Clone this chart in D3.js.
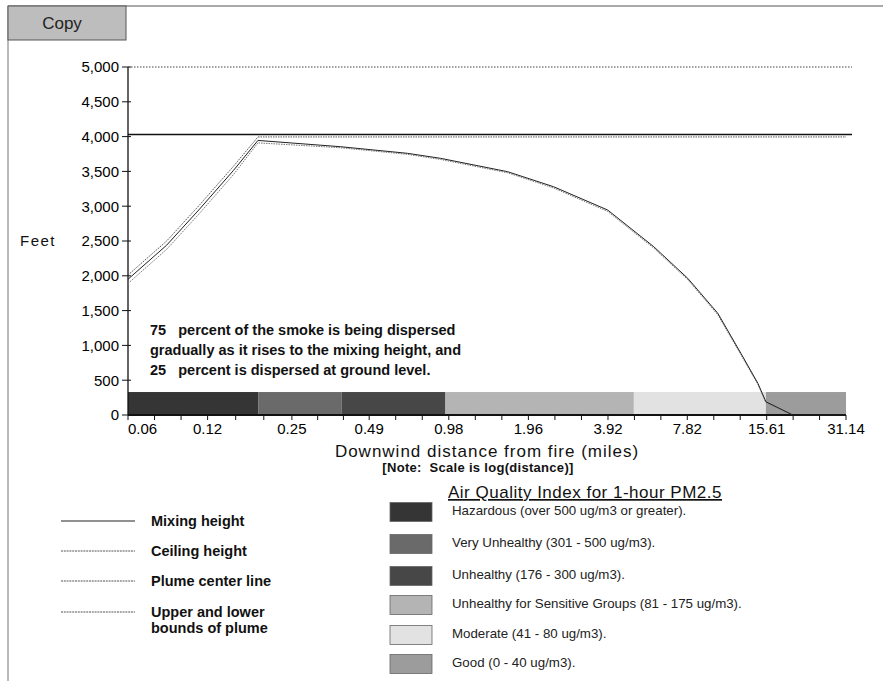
<!DOCTYPE html>
<html>
<head>
<meta charset="utf-8">
<script src="https://cdn.jsdelivr.net/npm/d3@7"></script>
<style>
  body { margin: 0; background: #fff; }
  svg { font-family: "Liberation Sans", Arial, sans-serif; }
</style>
</head>
<body>
<svg id="chart" width="883" height="681"></svg>
<script>
// distance labels along the log axis (miles)
const xTickLabels = [0.06, 0.12, 0.25, 0.49, 0.98, 1.96, 3.92, 7.82, 15.61, 31.14];
const yTicks = [0, 500, 1000, 1500, 2000, 2500, 3000, 3500, 4000, 4500, 5000];

const mixingHeight = 4030;
const ceilingHeight = 5000;

// plume center line
const centerDist = [0.06, 0.084, 0.112, 0.150, 0.186, 0.381, 0.683, 0.912, 1.635, 2.44, 3.91, 5.84, 7.85, 10.2, 12.47, 14.46, 15.5, 19.6, 31.14];
const centerFeet = [1950, 2440, 2960, 3510, 3945, 3855, 3760, 3688, 3496, 3280, 2945, 2418, 1964, 1461, 886, 455, 191, 0, 0];

// upper and lower bounds
const upperDist = [0.06, 0.084, 0.112, 0.150, 0.186, 31.14];
const upperFeet = [2011, 2500, 3020, 3570, 3995, 3995];
const lowerDist = [0.06, 0.084, 0.112, 0.150, 0.186, 0.381, 0.683, 0.912, 1.635, 2.44, 3.91, 5.84, 7.85, 10.2, 12.47, 14.46, 15.5, 19.6];
const lowerFeet = [1890, 2380, 2900, 3450, 3910, 3840, 3745, 3672, 3480, 3262, 2925, 2398, 1945, 1440, 866, 440, 180, 0];

// air quality band at ground level
const bandEdges = [0.06, 0.187, 0.386, 0.952, 4.91, 15.5, 31.14];
const bandCat = [0, 1, 2, 3, 4, 5];
const bandTop = 330;

const aqiLabels = [
  "Hazardous (over 500 ug/m3 or greater).",
  "Very Unhealthy (301 - 500 ug/m3).",
  "Unhealthy (176 - 300 ug/m3).",
  "Unhealthy for Sensitive Groups (81 - 175 ug/m3).",
  "Moderate (41 - 80 ug/m3).",
  "Good (0 - 40 ug/m3)."
];
const aqiColors = ["#353535", "#6a6a6a", "#474747", "#b4b4b4", "#e2e2e2", "#9c9c9c"];

const lineLegend = [
  ["Mixing height"],
  ["Ceiling height"],
  ["Plume center line"],
  ["Upper and lower", "bounds of plume"]
];

const svg = d3.select('#chart');

// window frame and Copy button
svg.append('line').attr('x1', 8).attr('y1', 6).attr('x2', 883).attr('y2', 6)
  .attr('stroke', '#555').attr('stroke-width', 1);
svg.append('line').attr('x1', 8).attr('y1', 6).attr('x2', 8).attr('y2', 681)
  .attr('stroke', '#777').attr('stroke-width', 1);
svg.append('rect').attr('x', 8).attr('y', 6).attr('width', 118).attr('height', 34)
  .attr('fill', '#bdbdbd').attr('stroke', '#555');
svg.append('text').attr('x', 62).attr('y', 29).attr('text-anchor', 'middle')
  .attr('font-size', 17).attr('fill', '#222').text('Copy');

const x = d3.scaleLog().domain([0.06, 31.14]).range([128, 846]);
const y = d3.scaleLinear().domain([0, 5000]).range([415, 67]);

// bands
svg.append('g').selectAll('rect').data(bandCat).join('rect')
  .attr('x', (d, i) => x(bandEdges[i]))
  .attr('width', (d, i) => x(bandEdges[i + 1]) - x(bandEdges[i]))
  .attr('y', y(bandTop))
  .attr('height', y(0) - y(bandTop))
  .attr('fill', d => aqiColors[d]);

// y axis
const yAxis = svg.append('g').attr('transform', 'translate(128,0)');
yAxis.append('line').attr('x1', 0).attr('x2', 0).attr('y1', y(5000)).attr('y2', y(0))
  .attr('stroke', '#111').attr('stroke-width', 1.3);
yAxis.selectAll('.yt').data(yTicks).join('line').attr('class', 'yt')
  .attr('x1', -6).attr('x2', 3).attr('y1', d => y(d)).attr('y2', d => y(d))
  .attr('stroke', '#111');
yAxis.selectAll('.yl').data(yTicks).join('text').attr('class', 'yl')
  .attr('x', -9).attr('y', d => y(d)).attr('dy', '0.36em')
  .attr('text-anchor', 'end').attr('font-size', 15).attr('fill', '#000')
  .text(d => d3.format(',')(d));

svg.append('text').attr('x', 20).attr('y', 246).attr('font-size', 15)
  .attr('letter-spacing', 1.5).attr('fill', '#111').text('Feet');

// x axis
const minorTicks = [];
xTickLabels.slice(0, -1).forEach((a, i) => {
  const b = xTickLabels[i + 1];
  minorTicks.push(a * Math.pow(b / a, 1 / 3), a * Math.pow(b / a, 2 / 3));
});
const xAxis = svg.append('g');
xAxis.append('line').attr('x1', x(0.06)).attr('x2', x(31.14)).attr('y1', y(0)).attr('y2', y(0))
  .attr('stroke', '#111').attr('stroke-width', 2);
xAxis.selectAll('.xt').data(xTickLabels.concat(minorTicks)).join('line').attr('class', 'xt')
  .attr('x1', d => x(d)).attr('x2', d => x(d))
  .attr('y1', y(0)).attr('y2', y(0) + 5)
  .attr('stroke', '#111');
xAxis.selectAll('.xl').data(xTickLabels).join('text').attr('class', 'xl')
  .attr('x', d => x(d)).attr('y', 434)
  .attr('text-anchor', (d, i) => i === 0 ? 'start' : 'middle')
  .attr('font-size', 15).attr('fill', '#000')
  .text(d => d.toFixed(2));

svg.append('text').attr('x', 487).attr('y', 457).attr('text-anchor', 'middle')
  .attr('font-size', 17).attr('letter-spacing', 1).attr('fill', '#111')
  .text('Downwind distance from fire (miles)');
svg.append('text').attr('x', 478).attr('y', 472).attr('text-anchor', 'middle')
  .attr('font-size', 13).attr('letter-spacing', 0.3).attr('font-weight', 'bold').attr('fill', '#111')
  .attr('xml:space', 'preserve').text('[Note:  Scale is log(distance)]');

// horizontal reference lines
svg.append('line').attr('x1', x(0.06)).attr('x2', x(31.14) + 6)
  .attr('y1', y(ceilingHeight)).attr('y2', y(ceilingHeight))
  .attr('stroke', '#444').attr('stroke-dasharray', '1.5,1.5');
svg.append('line').attr('x1', x(0.06)).attr('x2', x(31.14) + 6)
  .attr('y1', y(mixingHeight)).attr('y2', y(mixingHeight))
  .attr('stroke', '#111').attr('stroke-width', 1.3);

const line = d3.line().x(d => x(d[0])).y(d => y(d[1]));
svg.append('path').datum(d3.zip(upperDist, upperFeet)).attr('d', line)
  .attr('fill', 'none').attr('stroke', '#555').attr('stroke-dasharray', '1.5,1');
svg.append('path').datum(d3.zip(lowerDist, lowerFeet)).attr('d', line)
  .attr('fill', 'none').attr('stroke', '#777').attr('stroke-dasharray', '1.5,1');
svg.append('path').datum(d3.zip(centerDist, centerFeet)).attr('d', line)
  .attr('fill', 'none').attr('stroke', '#222').attr('stroke-width', 1);

// annotation
const note = [
  '75   percent of the smoke is being dispersed',
  'gradually as it rises to the mixing height, and',
  '25   percent is dispersed at ground level.'
];
svg.append('g').selectAll('text').data(note).join('text')
  .attr('x', 150).attr('y', (d, i) => 335 + i * 20)
  .attr('font-size', 14.5).attr('font-weight', 'bold').attr('fill', '#111')
  .attr('xml:space', 'preserve').text(d => d);

// left legend
const ll = svg.append('g').selectAll('g').data(lineLegend).join('g')
  .attr('transform', (d, i) => `translate(0,${[521, 551, 581, 612][i]})`);
ll.append('line').attr('x1', 61).attr('x2', 135).attr('y1', 0).attr('y2', 0)
  .attr('stroke', (d, i) => i === 0 ? '#222' : '#555')
  .attr('stroke-dasharray', (d, i) => i === 0 ? null : '2,0.8');
ll.selectAll('text').data(d => d).join('text')
  .attr('x', 151).attr('y', (d, i) => 5 + i * 16)
  .attr('font-size', 14.5).attr('font-weight', 'bold').attr('fill', '#111')
  .text(d => d);

// AQI legend
svg.append('text').attr('x', 448).attr('y', 498).attr('font-size', 17)
  .attr('letter-spacing', 0.5).attr('fill', '#111').attr('text-decoration', 'underline')
  .text('Air Quality Index for 1-hour PM2.5');
const rows = [512, 544, 576, 605, 635, 664];
const al = svg.append('g').selectAll('g').data(aqiLabels).join('g')
  .attr('transform', (d, i) => `translate(0,${rows[i]})`);
al.append('rect').attr('x', 390).attr('y', -9.5).attr('width', 42).attr('height', 19)
  .attr('fill', (d, i) => aqiColors[i]).attr('stroke', '#666').attr('stroke-width', 0.8);
al.append('text').attr('x', 452).attr('y', 0).attr('dy', '0.2em')
  .attr('font-size', 13.3).attr('fill', '#222')
  .text(d => d);
</script>
</body>
</html>
